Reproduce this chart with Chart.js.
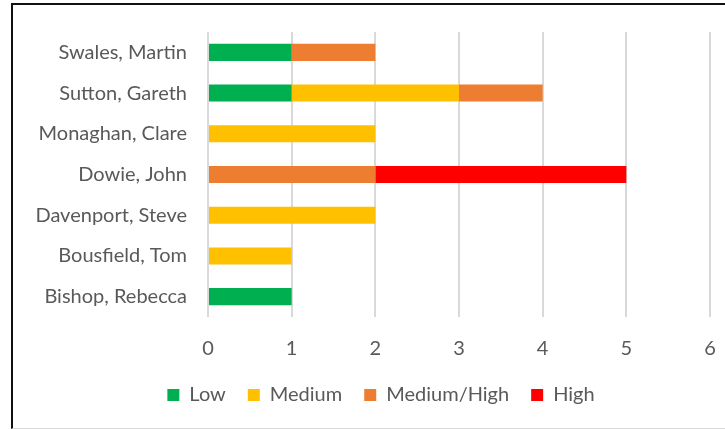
<!DOCTYPE html>
<html>
<head>
<meta charset="utf-8">
<script src="https://cdn.jsdelivr.net/npm/chart.js@4/dist/chart.umd.min.js"></script>
<style>
  html, body { margin: 0; padding: 0; background: #fff; overflow: hidden; }
  #frame {
    position: absolute; left: 11px; top: 3px; width: 760px; height: 423px;
    border-left: 2px solid #111; border-top: 2px solid #111; border-bottom: 1px solid #d9d9d9;
  }
  #wrap { position: absolute; left: 0; top: 0; width: 762px; height: 429px; }
</style>
</head>
<body>
<div id="frame"></div>
<div id="wrap"><canvas id="barChart"></canvas></div>
<script>
// people, top to bottom
var people = ["Swales, Martin", "Sutton, Gareth", "Monaghan, Clare", "Dowie, John",
  "Davenport, Steve", "Bousfield, Tom", "Bishop, Rebecca"];

// counts per risk level
var low = [1, 1, 0, 0, 0, 0, 1];
var medium = [0, 2, 2, 0, 2, 1, 0];
var mediumHigh = [1, 1, 0, 2, 0, 0, 0];
var high = [0, 0, 0, 3, 0, 0, 0];

var xTicks = [0, 1, 2, 3, 4, 5, 6];

var textGrey = '#595959';
var font = { family: 'Lato, "Open Sans", sans-serif', size: 20 };

var ctx = document.getElementById("barChart").getContext('2d');
var myBarChart = new Chart(ctx, {
  type: 'bar',
  data: {
    labels: people,
    datasets: [
      { label: "Low", data: low, backgroundColor: '#00b050' },
      { label: "Medium", data: medium, backgroundColor: '#ffc000' },
      { label: "Medium/High", data: mediumHigh, backgroundColor: '#ed7d31' },
      { label: "High", data: high, backgroundColor: '#ff0000' }
    ]
  },
  options: {
    indexAxis: 'y',
    responsive: true,
    maintainAspectRatio: false,
    animation: false,
    barPercentage: 0.42,
    categoryPercentage: 1,
    layout: { padding: { top: 32, right: 0, left: 0, bottom: 14 } },
    scales: {
      x: {
        stacked: true,
        min: 0,
        max: 6,
        afterBuildTicks: function (scale) {
          scale.ticks = xTicks.map(function (v) { return { value: v }; });
        },
        afterFit: function (scale) {
          // leave room on the right so the legend centres on the whole frame
          scale.height = 46;
          scale.paddingLeft = 0;
          scale.paddingRight = 52;
        },
        grid: { color: '#d9d9d9', lineWidth: 2, drawTicks: false },
        border: { display: false },
        ticks: { color: textGrey, font: font, padding: 20 }
      },
      y: {
        stacked: true,
        afterFit: function (scale) { scale.width = 208; },
        grid: { display: false },
        border: { display: false },
        ticks: { color: textGrey, font: font, padding: 13 }
      }
    },
    plugins: {
      tooltip: { enabled: false },
      legend: {
        position: 'bottom',
        labels: {
          color: textGrey,
          font: font,
          boxWidth: 12,
          boxHeight: 12,
          padding: 22
        }
      }
    }
  }
});
</script>
</body>
</html>
